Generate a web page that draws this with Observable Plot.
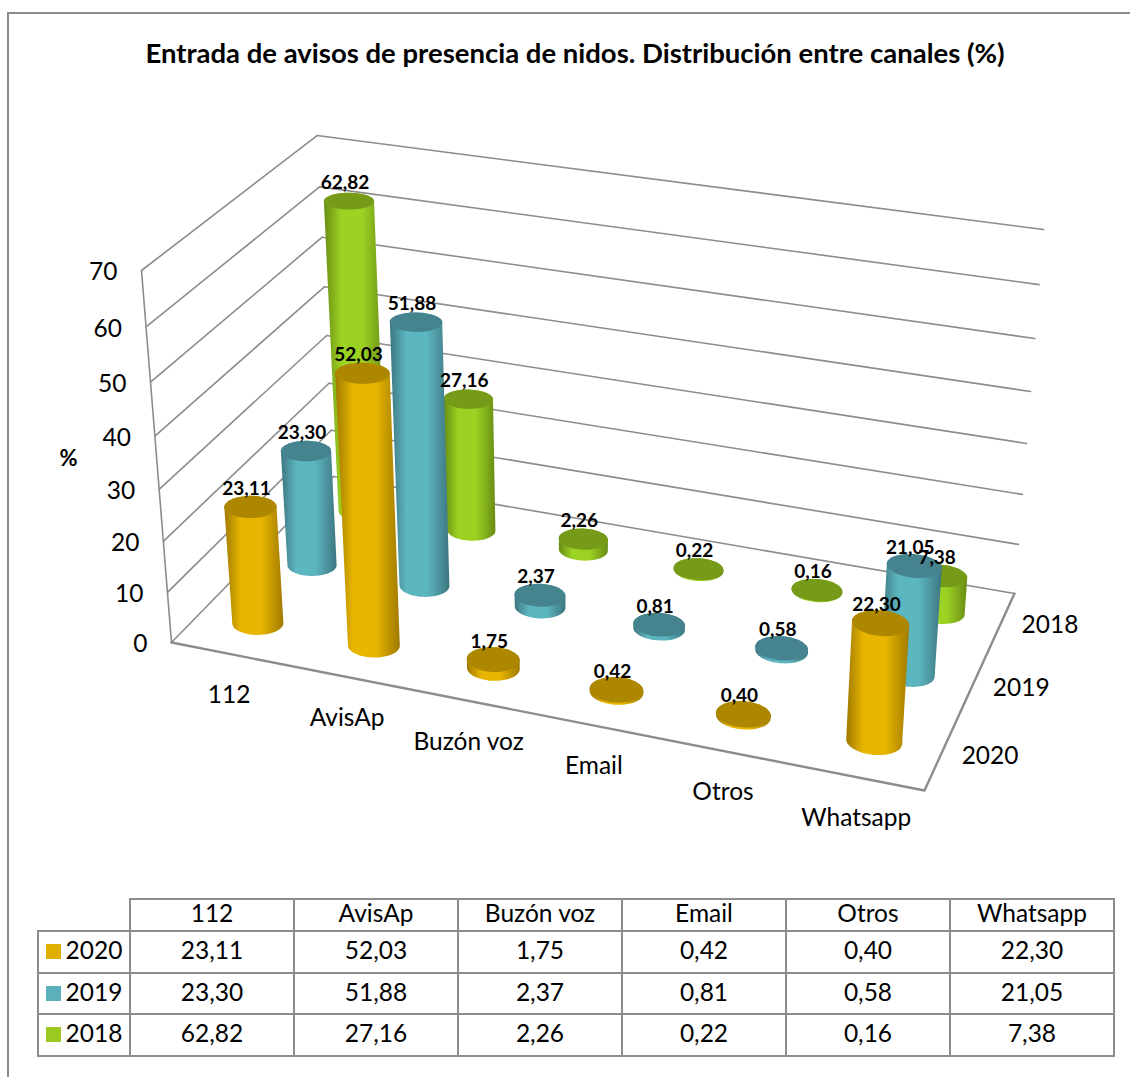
<!DOCTYPE html>
<html><head><meta charset="utf-8">
<script src="https://cdn.jsdelivr.net/npm/d3@7"></script>
<script src="https://cdn.jsdelivr.net/npm/@observablehq/plot@0.6"></script>
<style>
html,body{margin:0;padding:0;background:#fff;font-family:Lato,sans-serif;color:#000}
#page{position:relative;width:1130px;height:1077px;overflow:hidden}
#frame{position:absolute;left:7px;top:12px;right:-4px;bottom:-4px;border-left:2px solid #8c8c8c;border-top:2px solid #8c8c8c}
#title{position:absolute;left:0;width:1150px;top:37px;text-align:center;font-weight:700;font-size:27.5px;line-height:32px;white-space:nowrap}
#chart{position:absolute;left:0;top:100px}
table{position:absolute;left:37px;top:898px;border-collapse:collapse;table-layout:fixed;width:1077px;font-size:24.5px;line-height:1}
td{border:2px solid #8c8c8c;text-align:center;padding:0 0 3px 0;height:41.5px;width:164px;box-sizing:border-box}
tr.h td{height:32px}
td.k{width:92px;white-space:nowrap}
td.e{border:none;border-bottom:2px solid #8c8c8c;border-right:2px solid #8c8c8c}
.sw{display:inline-block;width:15px;height:15px;margin-right:5px}
</style></head><body>
<div id="page"><div id="frame"></div>
<div id="title">Entrada de avisos de presencia de nidos. Distribución entre canales (%)</div>
<div id="chart"></div><div id="tbl"></div></div>
<script>
const categories = ["112","AvisAp","Buzón voz","Email","Otros","Whatsapp"];
const years = ["2020","2019","2018"];
const values2020 = [23.11,52.03,1.75,0.42,0.40,22.30];
const values2019 = [23.30,51.88,2.37,0.81,0.58,21.05];
const values2018 = [62.82,27.16,2.26,0.22,0.16,7.38];
const valueTicks = [0,10,20,30,40,50,60,70];
const yearValues = [values2020,values2019,values2018];
const palette = {
  "2020":{top:"#ad8700",edge:"#a07a00",mid:"#e8b600",key:"#e0b000"},
  "2019":{top:"#45838e",edge:"#3d7680",mid:"#5cb6c0",key:"#5bb0bc"},
  "2018":{top:"#759b18",edge:"#688c14",mid:"#9cd222",key:"#9bc91f"}
};
const fmt = v => v.toFixed(2).replace(".",",");

// Projection of the 3D box: floor corners and the top of two vertical edges.
const FL=[171,642],FR=[924,790],BR=[1014,593],BL=[333,476],FLtop=[141,270],BRtop=[1043,231];
const dx1=FR[0]-BR[0],dx2=BL[0]-BR[0],dx3=FL[0]-FR[0]+BR[0]-BL[0];
const dy1=FR[1]-BR[1],dy2=BL[1]-BR[1],dy3=FL[1]-FR[1]+BR[1]-BL[1];
const den=dx1*dy2-dx2*dy1;
const g=(dx3*dy2-dx2*dy3)/den,h=(dx1*dy3-dx3*dy1)/den;
const a=FR[0]-FL[0]+g*FR[0],b=BL[0]-FL[0]+h*BL[0],c=FL[0];
const d=FR[1]-FL[1]+g*FR[1],e=BL[1]-FL[1]+h*BL[1],f=FL[1];
const D2=g+h+1;
const v3=(-(FL[0]-FLtop[0])-(BRtop[0]-BR[0])*D2)/(BRtop[0]-FLtop[0]);
const v1=FLtop[0]-FL[0]+FLtop[0]*v3, v2=FLtop[1]-FL[1]+FLtop[1]*v3;
function project(u,w,z){
  const s=u/categories.length,t=w/years.length,k=z/70;
  const q=g*s+h*t+v3*k+1;
  return [(a*s+b*t+v1*k+c)/q,(d*s+e*t+v2*k+f)/q];
}
const pt=(u,w,z)=>{const p=project(u,w,z);return {x:p[0],y:p[1]};};

const rU=0.205,rW=0.18;
const angles=d3.range(0,360,6).map(t=>t*Math.PI/180);
const ring=(u,w,z)=>angles.map(t=>project(u+rU*Math.cos(t),w+rW*Math.sin(t),z));
const lineOf=pts=>pts.map(p=>({x:p[0],y:p[1]}));

const gridColor="#8c8c8c";
const wallBack=valueTicks.map(z=>[pt(0,3,z),pt(6,3,z)]);
const wallLeft=valueTicks.map(z=>[pt(0,0,z),pt(0,3,z)]);
const marks=[];
marks.push(()=>{
  const defs=d3.create("svg:defs");
  for(const y of years){
    const lg=defs.append("linearGradient").attr("id","g"+y);
    [[0,palette[y].edge],[.28,palette[y].mid],[.62,palette[y].mid],[1,palette[y].edge]]
      .forEach(([o,col])=>lg.append("stop").attr("offset",o).attr("stop-color",col));
  }
  return defs.node();
});
for(const l of [...wallBack,...wallLeft,[pt(0,0,0),pt(0,0,70)]])
  marks.push(Plot.line(l,{x:"x",y:"y",stroke:gridColor,strokeWidth:1.6}));
marks.push(Plot.line([pt(0,0,0),pt(6,0,0),pt(6,3,0)],{x:"x",y:"y",stroke:gridColor,strokeWidth:2.4}));

const labels=[];
[2,1,0].forEach(w=>{
  const year=years[w];
  categories.forEach((cat,i)=>{
    const v=yearValues[w][i],u=i+.5,wc=w+.5;
    const hull=d3.polygonHull([...ring(u,wc,0),...ring(u,wc,v)]);
    marks.push(Plot.line(lineOf(hull),{x:"x",y:"y",fill:`url(#g${year})`,stroke:"none",curve:"linear-closed"}));
    marks.push(Plot.line(lineOf(ring(u,wc,v)),{x:"x",y:"y",fill:palette[year].top,stroke:"none",curve:"linear-closed"}));
    labels.push({...pt(u,wc,v),t:fmt(v)});
  });
});
marks.push(Plot.text(labels,{x:"x",y:"y",text:"t",dx:-4,dy:-18,fontWeight:700,fontSize:19,fill:"#000"}));
marks.push(Plot.text(categories.map((t,i)=>({...pt(i+.5,0,0),t})),{x:"x",y:"y",text:"t",dy:41,fontSize:24.5,fill:"#000"}));
marks.push(Plot.text(years.map((t,i)=>({...pt(6,i+.5,0),t})),{x:"x",y:"y",text:"t",dx:49,dy:2,fontSize:24.5,fill:"#000"}));
marks.push(Plot.text(valueTicks.map(z=>({...pt(0,0,z),t:String(z)})),{x:"x",y:"y",text:"t",dx:-24,dy:2,textAnchor:"end",fontSize:24.5,fill:"#000"}));
marks.push(Plot.text([{t:"%"}],{x:()=>68,y:()=>458,text:"t",fontWeight:700,fontSize:22,fill:"#000"}));

const svg=Plot.plot({width:1130,height:760,margin:0,
  style:{background:"transparent",fontFamily:"Lato,sans-serif",overflow:"visible"},
  x:{type:"linear",domain:[0,1130],range:[0,1130],axis:null},
  y:{type:"linear",domain:[100,860],range:[0,760],axis:null},
  marks});
document.getElementById("chart").append(svg);

let html='<table><tr class="h"><td class="e k"></td>'+categories.map(c=>`<td>${c}</td>`).join("")+'</tr>';
years.forEach((y,w)=>{
  html+=`<tr><td class="k"><span class="sw" style="background:${palette[y].key}"></span>${y}</td>`+yearValues[w].map(v=>`<td>${fmt(v)}</td>`).join("")+'</tr>';
});
document.getElementById("tbl").innerHTML=html+'</table>';
</script></body></html>
